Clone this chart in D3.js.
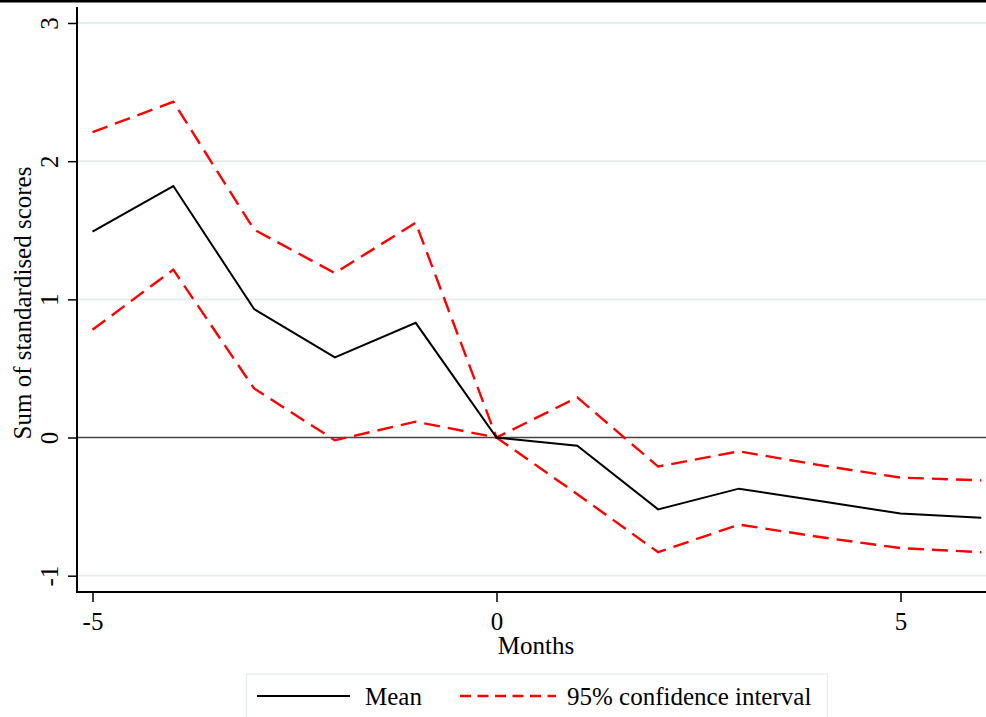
<!DOCTYPE html>
<html>
<head>
<meta charset="utf-8">
<script src="https://cdn.jsdelivr.net/npm/d3@7"></script>
<style>
  html, body { margin: 0; padding: 0; background: #fff; }
  svg { display: block; }
</style>
</head>
<body>
<svg id="chart" width="986" height="717" font-family="Liberation Serif, Times New Roman, serif"></svg>
<script>
// ---- data ----
const months = [-5, -4, -3, -2, -1, 0, 1, 2, 3, 4, 5, 6];
const meanValues = [1.49, 1.82, 0.93, 0.58, 0.83, 0.0, -0.06, -0.52, -0.37, -0.46, -0.55, -0.58];
const upperCI = [2.21, 2.43, 1.505, 1.19, 1.555, 0.0, 0.29, -0.21, -0.10, -0.20, -0.29, -0.31];
const lowerCI = [0.78, 1.215, 0.355, -0.02, 0.115, 0.0, -0.41, -0.83, -0.63, -0.72, -0.80, -0.83];
const xTicks = [-5, 0, 5];
const yTicks = [-1, 0, 1, 2, 3];
const legendLabels = ["Mean", "95% confidence interval"];

// ---- layout ----
const svg = d3.select("#chart");
const W = 986, H = 717;
const FS = 25;
const FONT = "Liberation Serif, Times New Roman, serif";
const plotLeft = 77, plotRight = 986, plotTop = 7, plotBottom = 592;

const x = d3.scaleLinear().domain([-5, 5]).range([92.5, 900.5]);
const y = d3.scaleLinear().domain([-1, 3]).range([575.7, 23]);
const fmt = d => String(d);

// top border
svg.append("rect").attr("x", 0).attr("y", 0).attr("width", W).attr("height", 2.5).attr("fill", "#000");

// gridlines
svg.append("g").selectAll("line").data(yTicks.filter(d => d !== 0)).join("line")
  .attr("x1", plotLeft).attr("x2", plotRight)
  .attr("y1", d => y(d)).attr("y2", d => y(d))
  .attr("stroke", "#e4eded").attr("stroke-width", 1.8);

// zero reference line
svg.append("line")
  .attr("x1", plotLeft).attr("x2", plotRight)
  .attr("y1", y(0)).attr("y2", y(0))
  .attr("stroke", "#444").attr("stroke-width", 1.4);

// Y axis
const yAxis = d3.axisLeft(y).tickValues(yTicks).tickSize(9).tickPadding(0).tickFormat(fmt);
const gy = svg.append("g").attr("transform", `translate(${plotLeft},0)`).call(yAxis)
  .attr("font-size", FS).attr("font-family", FONT);
gy.select(".domain").remove();
gy.selectAll(".tick line").attr("stroke", "#000").attr("stroke-width", 1.5);
gy.selectAll(".tick text")
  .attr("x", 0).attr("dy", null)
  .attr("text-anchor", "middle")
  .attr("transform", "translate(-19,0) rotate(-90)")
  .attr("fill", "#000");
svg.append("line").attr("x1", plotLeft).attr("x2", plotLeft).attr("y1", plotTop).attr("y2", plotBottom + 1)
  .attr("stroke", "#000").attr("stroke-width", 2);

// X axis
const xAxis = d3.axisBottom(x).tickValues(xTicks).tickSize(10).tickPadding(10).tickFormat(fmt);
const gx = svg.append("g").attr("transform", `translate(0,${plotBottom})`).call(xAxis)
  .attr("font-size", FS).attr("font-family", FONT);
gx.select(".domain").remove();
gx.selectAll(".tick line").attr("stroke", "#000").attr("stroke-width", 1.5);
gx.selectAll(".tick text").attr("fill", "#000");
svg.append("line").attr("x1", plotLeft - 1).attr("x2", plotRight).attr("y1", plotBottom).attr("y2", plotBottom)
  .attr("stroke", "#000").attr("stroke-width", 2);

// axis titles
svg.append("text").attr("x", 536).attr("y", 654)
  .attr("text-anchor", "middle").attr("font-size", FS).text("Months");
svg.append("text").attr("transform", `translate(31,303) rotate(-90)`)
  .attr("text-anchor", "middle").attr("font-size", FS).text("Sum of standardised scores");

// lines
const line = d3.line().x(d => x(d[0])).y(d => y(d[1]));
const toPts = vals => months.map((m, i) => [m, vals[i]]);

svg.append("path").datum(toPts(upperCI)).attr("d", line)
  .attr("fill", "none").attr("stroke", "#ff0000").attr("stroke-width", 2.4)
  .attr("stroke-dasharray", "16,8");
svg.append("path").datum(toPts(lowerCI)).attr("d", line)
  .attr("fill", "none").attr("stroke", "#ff0000").attr("stroke-width", 2.4)
  .attr("stroke-dasharray", "16,8");
svg.append("path").datum(toPts(meanValues)).attr("d", line)
  .attr("fill", "none").attr("stroke", "#000").attr("stroke-width", 2);

// legend
const lg = svg.append("g");
lg.append("rect").attr("x", 246.5).attr("y", 674).attr("width", 581).attr("height", 60)
  .attr("fill", "#fff").attr("stroke", "#e4ecee").attr("stroke-width", 1.2);
lg.append("line").attr("x1", 257).attr("x2", 350).attr("y1", 696).attr("y2", 696)
  .attr("stroke", "#000").attr("stroke-width", 2);
lg.append("text").attr("x", 365).attr("y", 705).attr("font-size", FS).text(legendLabels[0]);
lg.append("line").attr("x1", 460).attr("x2", 556).attr("y1", 696).attr("y2", 696)
  .attr("stroke", "#ff0000").attr("stroke-width", 2.4).attr("stroke-dasharray", "11,6.5");
lg.append("text").attr("x", 567).attr("y", 705).attr("font-size", FS).text(legendLabels[1]);
</script>
</body>
</html>
